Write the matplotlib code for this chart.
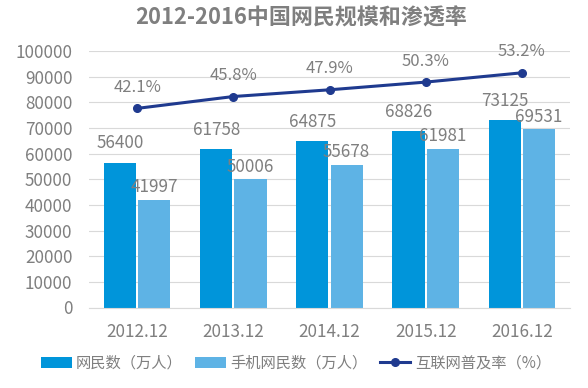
import matplotlib
matplotlib.use("Agg")
import matplotlib.pyplot as plt
import numpy as np

plt.rcParams['font.family'] = ['Noto Sans CJK SC', 'DejaVu Sans']

categories = ['2012.12', '2013.12', '2014.12', '2015.12', '2016.12']
netizens = [56400, 61758, 64875, 68826, 73125]
mobile_netizens = [41997, 50006, 55678, 61981, 69531]
penetration = [42.1, 45.8, 47.9, 50.3, 53.2]
yticks = list(range(0, 100001, 10000))

title = '2012-2016中国网民规模和渗透率'
label1 = '网民数（万人）'
label2 = '手机网民数（万人）'
label3 = '互联网普及率（%）'

c1 = '#0095DA'
c2 = '#5EB3E5'
c3 = '#1F3A8F'
grey = '#7F7F7F'

fig = plt.figure(figsize=(5.88, 3.88), dpi=100)
ax = fig.add_axes([89/588, 1-307.5/388, 481/588, 256.5/388])
x = np.arange(len(categories))
w = 0.335
off = 0.178
b1 = ax.bar(x - off, netizens, w, color=c1, label=label1, zorder=2)
b2 = ax.bar(x + off, mobile_netizens, w, color=c2, label=label2, zorder=2)
ax.set_ylim(0, 100000)
ax.set_xlim(-0.5, len(categories) - 0.5)
ax.set_yticks(yticks)
ax.set_yticklabels([str(v) for v in yticks])
ax.set_xticks(x)
ax.set_xticklabels(categories)
ax.tick_params(axis='both', length=0, labelsize=12.3, labelcolor=grey)
ax.tick_params(axis='y', pad=12)
ax.tick_params(axis='x', pad=11)
ax.yaxis.grid(True, color='#D9D9D9', linewidth=0.8, zorder=0)
ax.set_axisbelow(True)
for s in ['top', 'right', 'left']:
    ax.spines[s].set_visible(False)
ax.spines['bottom'].set_color('#D9D9D9')

for bars, vals, dy in ((b1, netizens, 7.5), (b2, mobile_netizens, 2.5)):
    for r, v in zip(bars, vals):
        ax.annotate(str(v), (r.get_x() + r.get_width()/2, v), xytext=(0, dy),
                    textcoords='offset points', ha='center', va='bottom',
                    fontsize=12.3, color=grey)

ax2 = ax.twinx()
ax2.set_ylim(-20, 60)
ln, = ax2.plot(x, penetration, color=c3, linewidth=2.2, marker='o', markersize=5.5,
               label=label3, zorder=3)
for xi, v in zip(x, penetration):
    ax2.annotate(f'{v}%', (xi, v), xytext=(0, 9), textcoords='offset points',
                 ha='center', va='bottom', fontsize=12, color=grey)
ax2.axis('off')

fig.text(301/588, 1-18/388, title, ha='center', va='center', fontsize=15.8,
         fontweight='bold', color=grey)

handles = [b1, b2, ln]
leg = fig.legend(handles, [label1, label2, label3], loc='center',
                 bbox_to_anchor=(296/588, 1-363/388), ncol=3, frameon=False,
                 fontsize=11, handlelength=2.0, handleheight=0.7,
                 handletextpad=0.3, columnspacing=0.8)
for t in leg.get_texts():
    t.set_color(grey)

fig.savefig('out.png', dpi=100)
